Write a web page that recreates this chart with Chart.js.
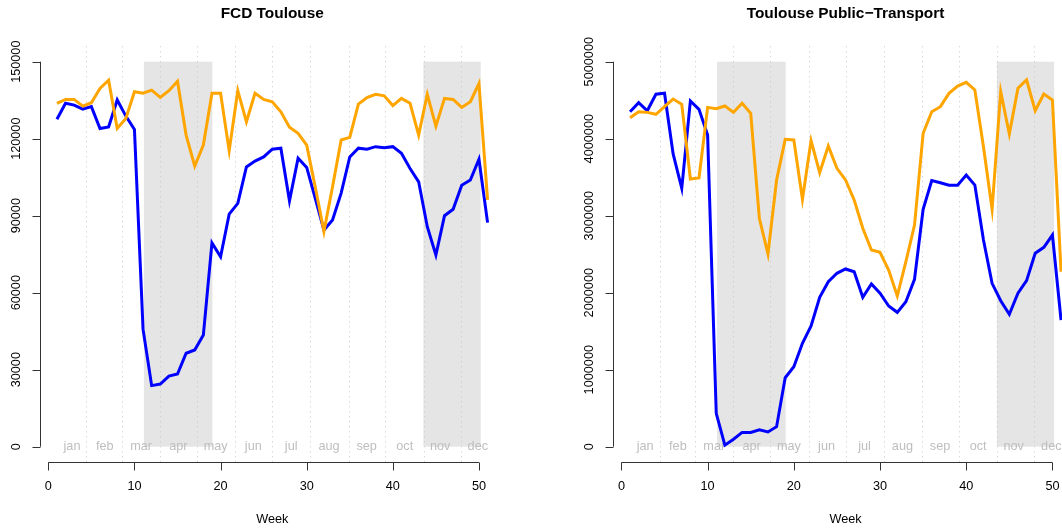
<!DOCTYPE html>
<html>
<head>
<meta charset="utf-8">
<script src="https://cdn.jsdelivr.net/npm/chart.js@4.4.0/dist/chart.umd.min.js"></script>
<style>
  body { margin: 0; background: #fff; }
  #wrap { position: relative; width: 1062px; height: 529px; }
  canvas { position: absolute; top: 0; }
  #c1 { left: 0; }
  #c2 { left: 531px; }
</style>
</head>
<body>
<div id="wrap">
  <canvas id="c1" width="531" height="529"></canvas>
  <canvas id="c2" width="531" height="529"></canvas>
</div>
<script>
// Semaines 1..51
const weeks = Array.from({ length: 51 }, (_, i) => i + 1);

// FCD Toulouse
const fcdOrange = [133800, 135300, 135300, 132700, 134000, 139600, 142800, 124000, 127900, 138300,
  137700, 138900, 136100, 138700, 142400, 121400, 109300, 117500, 137700, 137700,
  115300, 138700, 126600, 137700, 135300, 134400, 130500, 124500, 122100, 117500,
  101100, 83800, 101300, 119500, 120500, 133500, 136000, 137300, 136700, 132900,
  135700, 133800, 121400, 137300, 124900, 135700, 135300, 132200, 134400, 141500, 96200];
const fcdBlue = [127600, 133800, 133100, 131500, 132500, 124000, 124600, 135100, 128800, 123600,
  45700, 23800, 24400, 27500, 28300, 36400, 37700, 43500, 79400, 74000,
  90600, 94800, 109000, 111300, 112900, 115900, 116300, 95800, 112400, 108800,
  96700, 84400, 88300, 98800, 112900, 116300, 115900, 116900, 116500, 116900,
  114300, 108400, 103200, 85700, 74700, 90000, 92500, 101900, 103900, 112000, 87300];

// Toulouse Public-Transport
const tpOrange = [4272000, 4350000, 4342000, 4317000, 4416000, 4515000, 4447000, 3477000, 3490000, 4407000,
  4389000, 4425000, 4342000, 4460000, 4330000, 2967000, 2503000, 3464000, 3992000, 3983000,
  3213000, 3974000, 3558000, 3905000, 3616000, 3464000, 3204000, 2837000, 2555000, 2525000,
  2294000, 1957000, 2403000, 2879000, 4070000, 4350000, 4416000, 4589000, 4684000, 4733000,
  4633000, 3896000, 3083000, 4611000, 4061000, 4655000, 4763000, 4363000, 4580000, 4503000, 2272000];
const tpBlue = [4350000, 4468000, 4363000, 4577000, 4590000, 3802000, 3356000, 4490000, 4381000, 4048000,
  433000, 20000, 97000, 186000, 186000, 218000, 191000, 260000, 896000, 1039000,
  1343000, 1568000, 1940000, 2143000, 2252000, 2308000, 2272000, 1940000, 2113000, 1993000,
  1827000, 1745000, 1883000, 2174000, 3083000, 3455000, 3428000, 3395000, 3395000, 3528000,
  3398000, 2685000, 2122000, 1896000, 1720000, 1993000, 2156000, 2512000, 2589000, 2749000, 1645000];

// Ticks
const xTicks = [0, 10, 20, 30, 40, 50];
const fcdYTicks = [0, 30000, 60000, 90000, 120000, 150000];
const tpYTicks = [0, 1000000, 2000000, 3000000, 4000000, 5000000];

// Mois et confinements (en semaines)
const monthNames = ['jan', 'feb', 'mar', 'apr', 'may', 'jun', 'jul', 'aug', 'sep', 'oct', 'nov', 'dec'];
const monthLabelPos = [2.75, 6.55, 10.77, 15.1, 19.43, 23.8, 28.2, 32.6, 36.96, 41.38, 45.5, 49.87];
const monthBounds = [4.43, 8.57, 13, 17.29, 21.71, 26, 30.43, 34.86, 39.14, 43.57, 47.86];
const lockdowns = [[11.1, 19.05], [43.55, 50.2]];

const FONT = '"Liberation Sans", Arial, Helvetica, sans-serif';

function toXY(vals) {
  return weeks.map((w, i) => ({ x: w, y: vals[i] }));
}

// Fond : confinements, lignes pointillées, mois
const fondPlugin = {
  id: 'fond',
  beforeDatasetsDraw(chart, args, opts) {
    const { ctx, chartArea: a, scales: { x, y } } = chart;
    ctx.save();
    ctx.fillStyle = '#e5e5e5';
    lockdowns.forEach(([s, e]) => {
      const x0 = x.getPixelForValue(s), x1 = x.getPixelForValue(e);
      const yTop = y.getPixelForValue(opts.top), yBot = y.getPixelForValue(0);
      ctx.fillRect(x0, yTop, x1 - x0, yBot - yTop);
    });
    ctx.strokeStyle = '#c8c8c8';
    ctx.lineWidth = 1;
    ctx.setLineDash([1, 4]);
    monthBounds.forEach(m => {
      const px = Math.round(x.getPixelForValue(m)) + 0.5;
      ctx.beginPath();
      ctx.moveTo(px, a.top);
      ctx.lineTo(px, a.bottom);
      ctx.stroke();
    });
    ctx.setLineDash([]);
    ctx.fillStyle = '#bebebe';
    ctx.font = '12.7px ' + FONT;
    ctx.textAlign = 'center';
    ctx.textBaseline = 'middle';
    const y0 = y.getPixelForValue(0);
    monthNames.forEach((m, i) => {
      ctx.fillText(m, x.getPixelForValue(monthLabelPos[i]), y0);
    });
    ctx.restore();
  }
};

// Axes façon R, titre, étiquette "Week"
const axesPlugin = {
  id: 'axesR',
  afterDraw(chart, args, opts) {
    const { ctx, chartArea: a, scales: { x, y } } = chart;
    ctx.save();
    ctx.strokeStyle = '#333';
    ctx.fillStyle = '#000';
    ctx.lineWidth = 1;
    ctx.font = '12.7px ' + FONT;

    // axe x
    const ay = Math.round(a.bottom) + 0.5;
    ctx.beginPath();
    ctx.moveTo(x.getPixelForValue(xTicks[0]), ay);
    ctx.lineTo(x.getPixelForValue(xTicks[xTicks.length - 1]), ay);
    xTicks.forEach(t => {
      const px = Math.round(x.getPixelForValue(t)) + 0.5;
      ctx.moveTo(px, ay);
      ctx.lineTo(px, ay + 8);
    });
    ctx.stroke();
    ctx.textAlign = 'center';
    ctx.textBaseline = 'middle';
    xTicks.forEach(t => ctx.fillText(String(t), x.getPixelForValue(t), ay + 24));

    // axe y
    const ax = Math.round(a.left) + 0.5;
    const yt = opts.yTicks;
    ctx.beginPath();
    ctx.moveTo(ax, y.getPixelForValue(yt[0]));
    ctx.lineTo(ax, y.getPixelForValue(yt[yt.length - 1]));
    yt.forEach(t => {
      const py = Math.round(y.getPixelForValue(t)) + 0.5;
      ctx.moveTo(ax, py);
      ctx.lineTo(ax - 8, py);
    });
    ctx.stroke();
    yt.forEach(t => {
      ctx.save();
      ctx.translate(ax - 24, y.getPixelForValue(t));
      ctx.rotate(-Math.PI / 2);
      ctx.fillText(String(t), 0, 0);
      ctx.restore();
    });

    // titres
    const cx = x.getPixelForValue(26);
    ctx.fillText('Week', cx, 519);
    ctx.font = 'bold 15.4px ' + FONT;
    ctx.fillText(opts.title, cx, 14);
    ctx.restore();
  }
};

function makeChart(el, orange, blue, cfg) {
  return new Chart(el, {
    type: 'line',
    data: {
      datasets: [
        { data: toXY(orange), borderColor: '#ffa500', borderWidth: 3, pointRadius: 0, tension: 0 },
        { data: toXY(blue), borderColor: '#0000ff', borderWidth: 3, pointRadius: 0, tension: 0 }
      ]
    },
    options: {
      responsive: false,
      animation: false,
      events: [],
      layout: { padding: cfg.padding },
      scales: {
        x: { type: 'linear', display: false, min: -1, max: cfg.xMax },
        y: { type: 'linear', display: false, min: cfg.yMin, max: cfg.yMax }
      },
      plugins: {
        legend: { display: false },
        tooltip: { enabled: false },
        fond: { top: cfg.shadeTop },
        axesR: { yTicks: cfg.yTicks, title: cfg.title }
      }
    },
    plugins: [fondPlugin, axesPlugin]
  });
}

makeChart(document.getElementById('c1'), fcdOrange, fcdBlue, {
  title: 'FCD Toulouse',
  padding: { left: 39.7, right: 26.2, top: 46.3, bottom: 66.9 },
  xMax: 53, yMin: -6000, yMax: 156000, shadeTop: 150000, yTicks: fcdYTicks
});

makeChart(document.getElementById('c2'), tpOrange, tpBlue, {
  title: 'Toulouse Public\u2212Transport',
  padding: { left: 81.8, right: 0, top: 46.3, bottom: 66.9 },
  xMax: 51.11, yMin: -200000, yMax: 5200000, shadeTop: 5000000, yTicks: tpYTicks
});
</script>
</body>
</html>
